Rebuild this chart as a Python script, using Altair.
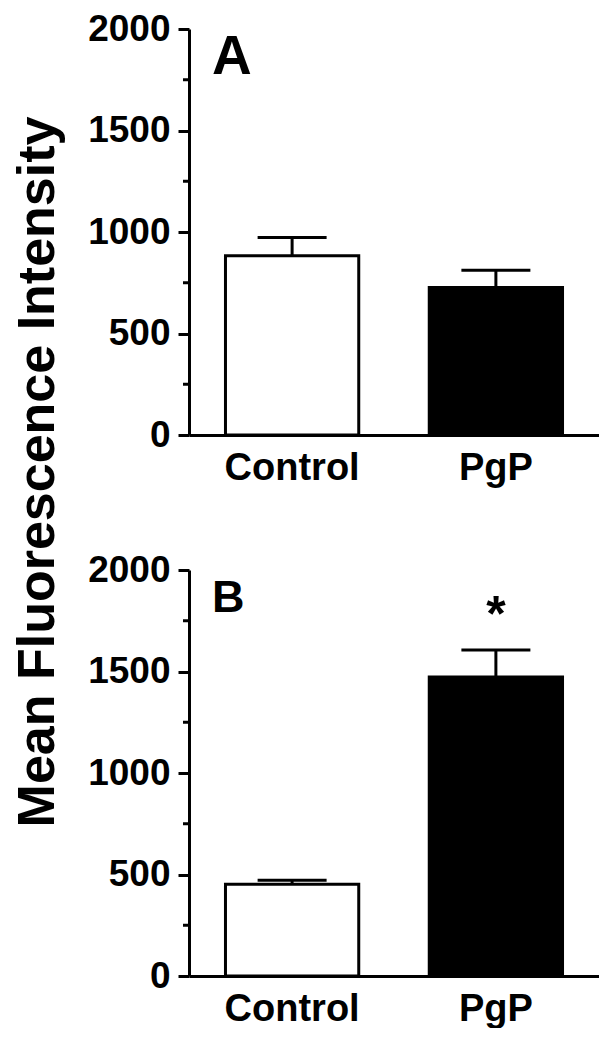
import altair as alt
import pandas as pd

# ---- data ----
categories = ["Control", "PgP"]
means_a = [883, 727]
sems_a = [90, 85]
means_b = [452, 1473]
sems_b = [20, 133]
stars_b = ["", "*"]
y_ticks = [0, 500, 1000, 1500, 2000]
minor_ticks = [250, 750, 1250, 1750]
y_title = "Mean Fluorescence Intensity"

FONT = "Liberation Sans"
W, H = 410, 406


def panel(means, sems, letter, letter_size, letter_y, stars=None):
    df = pd.DataFrame({
        "cat": categories,
        "mean": means,
        "upper": [m + s for m, s in zip(means, sems)],
        "star": stars if stars else ["", ""],
    })
    x = alt.X(
        "cat:N", sort=categories,
        scale=alt.Scale(paddingInner=0.346, paddingOuter=0.179),
        axis=alt.Axis(title=None, labelAngle=0, labelFontSize=38, labelPadding=14,
                      ticks=False, domainWidth=3, domainColor="black",
                      labelFont=FONT, labelFontWeight="bold", labelColor="black"),
    )
    yscale = alt.Scale(domain=[0, 2000], nice=False, zero=True)
    y = alt.Y(
        "mean:Q", scale=yscale,
        axis=alt.Axis(title=None, values=y_ticks, format="d", tickSize=11, tickWidth=3,
                      tickColor="black", domainWidth=3, domainColor="black",
                      labelFontSize=37, labelPadding=8, grid=False,
                      labelFont=FONT, labelFontWeight="bold", labelColor="black"),
    )
    base = alt.Chart(df)
    bars = base.mark_bar(stroke="black", strokeWidth=3).encode(
        x=x, y=y,
        fill=alt.Fill("cat:N", scale=alt.Scale(domain=categories, range=["white", "black"]), legend=None),
    )
    stem = base.mark_rule(strokeWidth=3, color="black").encode(
        x=alt.X("cat:N", sort=categories), y=alt.Y("mean:Q", title=None), y2="upper:Q")
    cap = base.mark_tick(size=69, thickness=3, color="black", opacity=1).encode(
        x=alt.X("cat:N", sort=categories), y=alt.Y("upper:Q", title=None))
    minor = alt.Chart(pd.DataFrame({"v": minor_ticks})).mark_rule(strokeWidth=3, color="black").encode(
        y=alt.Y("v:Q", title=None), x=alt.value(-6), x2=alt.value(0))
    lab = alt.Chart(pd.DataFrame({"t": [letter]})).mark_text(
        fontSize=letter_size, fontWeight="bold", font=FONT, align="left",
        baseline="alphabetic", color="black").encode(
        text="t:N", x=alt.value(23), y=alt.value(letter_y))
    layers = [bars, stem, cap, minor, lab]
    if stars:
        star = base.mark_text(fontSize=50, fontWeight="bold", font=FONT, baseline="alphabetic",
                              dy=-19, color="black").encode(
            x=alt.X("cat:N", sort=categories), y=alt.Y("upper:Q", title=None), text="star:N")
        layers.append(star)
    return alt.layer(*layers).properties(width=W, height=H)


pA = panel(means_a, sems_a, "A", 55, 45)
pB = panel(means_b, sems_b, "B", 45, 42, stars_b)

title_chart = alt.Chart(pd.DataFrame({"t": [y_title]})).mark_text(
    angle=270, fontSize=52, fontWeight="bold", font=FONT, align="center",
    baseline="middle", color="black").encode(
    text="t:N", x=alt.value(30), y=alt.value(443)).properties(width=60, height=900)

chart = alt.hconcat(
    title_chart,
    alt.vconcat(pA, pB, spacing=64),
    spacing=19,
).properties(
    padding={"top": 2, "left": 0, "right": 0, "bottom": 0}
).configure_view(stroke=None)

chart.save("out.html", embed_options={"renderer": "svg", "actions": False})
